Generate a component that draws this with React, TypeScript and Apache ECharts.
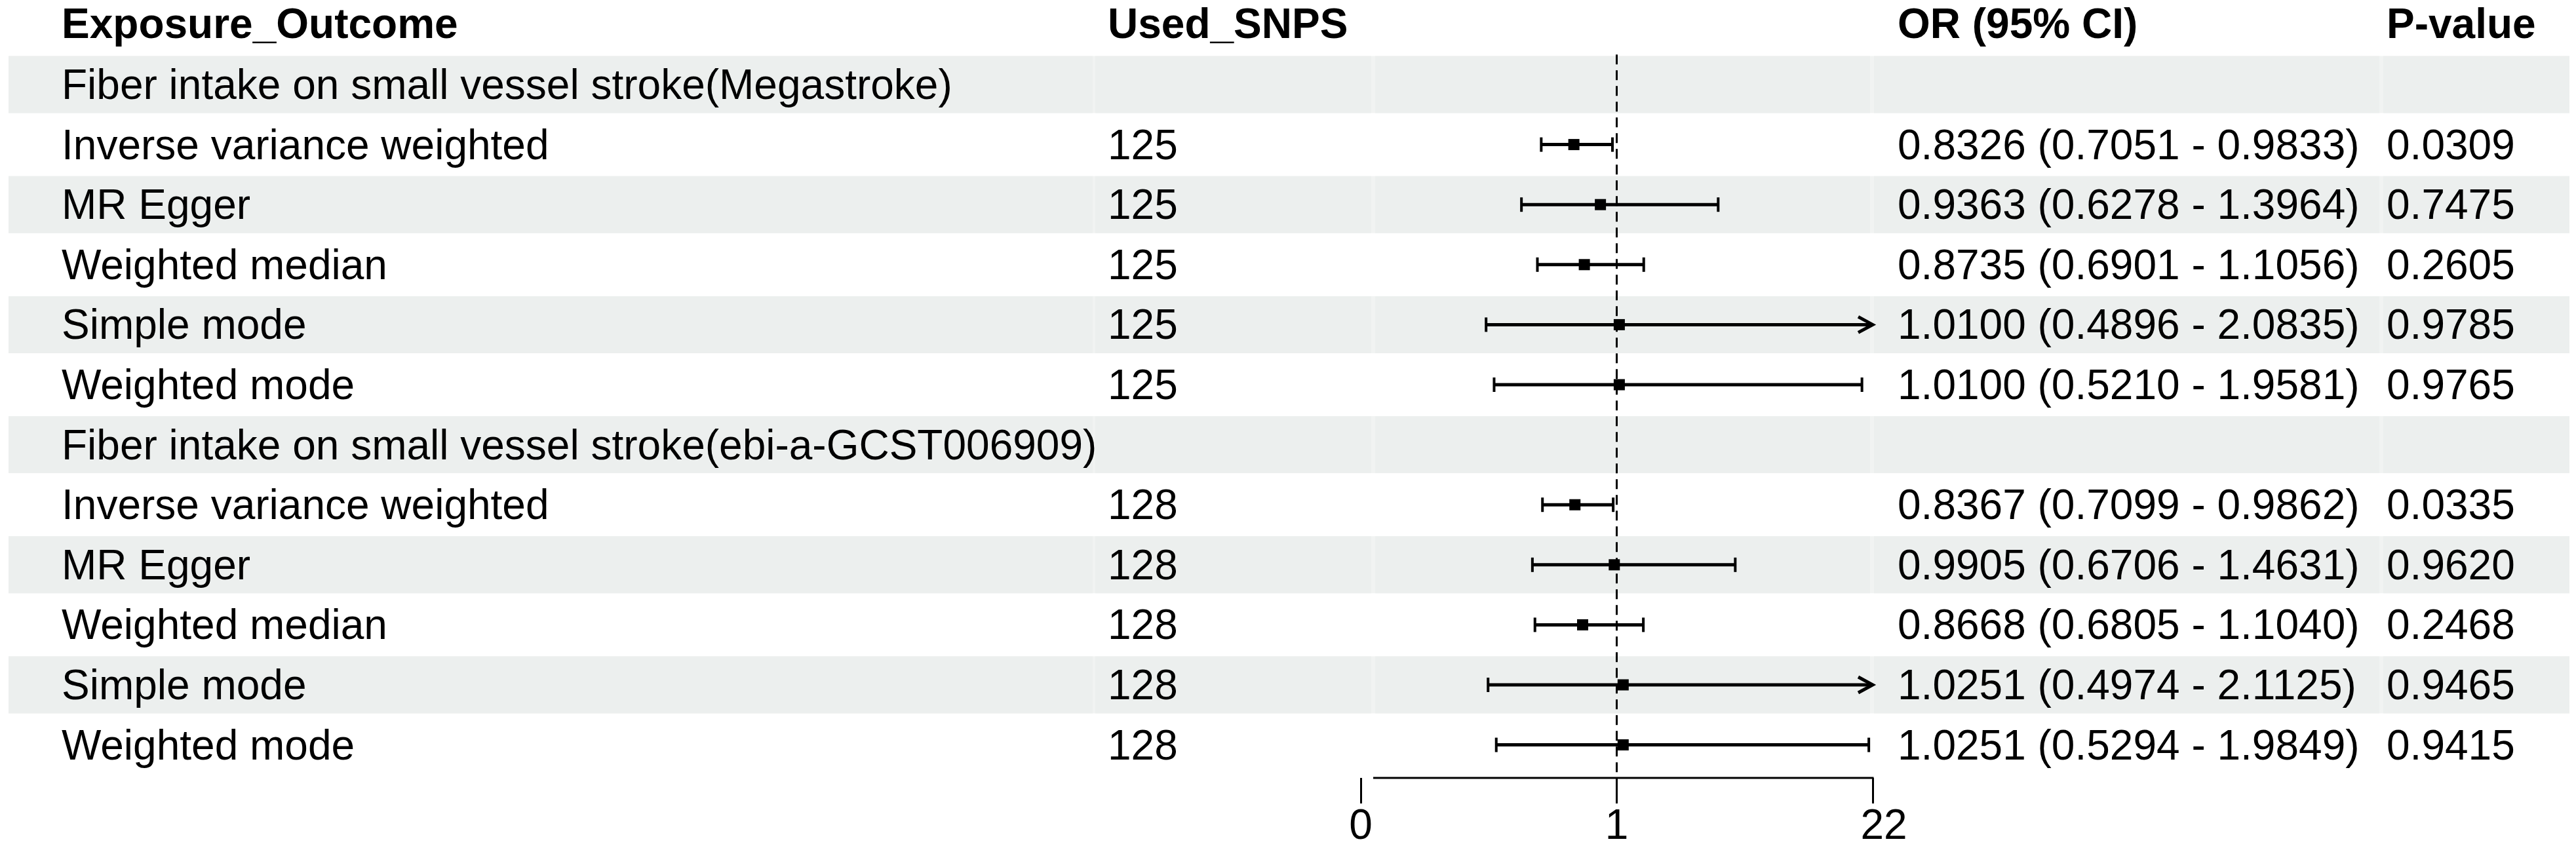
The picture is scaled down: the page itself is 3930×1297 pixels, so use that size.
import React, { useEffect, useRef } from "react";
import * as echarts from "echarts";

// ---------------- data ----------------
const headers = ["Exposure_Outcome", "Used_SNPS", "OR (95% CI)", "P-value"];
const rowLabels = [
  "Fiber intake on small vessel stroke(Megastroke)",
  "Inverse variance weighted",
  "MR Egger",
  "Weighted median",
  "Simple mode",
  "Weighted mode",
  "Fiber intake on small vessel stroke(ebi-a-GCST006909)",
  "Inverse variance weighted",
  "MR Egger",
  "Weighted median",
  "Simple mode",
  "Weighted mode",
];
const usedSnps = ["", "125", "125", "125", "125", "125", "", "128", "128", "128", "128", "128"];
const orValues = [null, 0.8326, 0.9363, 0.8735, 1.01, 1.01, null, 0.8367, 0.9905, 0.8668, 1.0251, 1.0251];
const ciLower = [null, 0.7051, 0.6278, 0.6901, 0.4896, 0.521, null, 0.7099, 0.6706, 0.6805, 0.4974, 0.5294];
const ciUpper = [null, 0.9833, 1.3964, 1.1056, 2.0835, 1.9581, null, 0.9862, 1.4631, 1.104, 2.1125, 1.9849];
const pValues = ["", "0.0309", "0.7475", "0.2605", "0.9785", "0.9765", "", "0.0335", "0.9620", "0.2468", "0.9465", "0.9415"];
const xTickValues = [0, 1, 2];
const xTickLabels = ["0", "1", "22"];
const referenceValue = 1;

// ---------------- layout ----------------
const W = 3930;
const H = 1297;
const ROW0 = 129;
const ROW_H = 91.6;
const Y_MIN = -0.5;
const Y_MAX = 11.55;
const HEADER_ROW = -1.01;
const GRID_TOP = ROW0 + Y_MIN * ROW_H;
const GRID_H = (Y_MAX - Y_MIN) * ROW_H;
const FOREST_LEFT = 2076;
const FOREST_W = 781;
const X_MIN = 0;
const X_MAX = 2;
const COL_X = [94, 1690, 2895, 3641];
const CELLS = [
  [13, 1667],
  [1671, 2092],
  [2098, 2853],
  [2859, 3630],
  [3636, 3920],
];
const SHADE_H = 87;
const FONT = '"Liberation Sans", Arial, Helvetica, sans-serif';
const FS = 64;

export default function App() {
  const ref = useRef<HTMLDivElement>(null);

  useEffect(() => {
    document.body.style.margin = "0";
    if (!ref.current) return;
    const chart = echarts.init(ref.current, null, { renderer: "svg" });

    const shadeData = rowLabels.map((_, i) => [i]).filter((d) => d[0] % 2 === 0);
    const tableData = [[HEADER_ROW]].concat(rowLabels.map((_, i) => [i]));
    const forestData: number[][] = [];
    orValues.forEach((v, i) => {
      if (v != null) forestData.push([i, v, ciLower[i] as number, ciUpper[i] as number]);
    });

    const option: any = {
      animation: false,
      backgroundColor: "#ffffff",
      grid: [
        { left: 0, top: GRID_TOP, width: W, height: GRID_H },
        { left: FOREST_LEFT, top: GRID_TOP, width: FOREST_W, height: GRID_H },
      ],
      xAxis: [
        { gridIndex: 0, type: "value", min: 0, max: W, show: false },
        {
          gridIndex: 1,
          type: "value",
          position: "bottom",
          min: X_MIN,
          max: X_MAX,
          interval: 1,
          axisLine: { show: false, onZero: false },
          axisTick: { show: true, length: 39, lineStyle: { color: "#000", width: 3 } },
          splitLine: { show: false },
          axisLabel: {
            margin: 46,
            color: "#000",
            fontSize: FS,
            lineHeight: 50,
            fontFamily: FONT,
            formatter: (v: number) => {
              const i = xTickValues.indexOf(v);
              if (i < 0) return "";
              return i === xTickValues.length - 1 ? `{shift|${xTickLabels[i]}}` : xTickLabels[i];
            },
            rich: {
              shift: { padding: [0, 0, 0, 34], fontSize: FS, lineHeight: 50, fontFamily: FONT, color: "#000" },
            },
          },
        },
      ],
      yAxis: [
        { gridIndex: 0, type: "value", min: Y_MIN, max: Y_MAX, inverse: true, show: false },
        { gridIndex: 1, type: "value", min: Y_MIN, max: Y_MAX, inverse: true, show: false },
      ],
      series: [
        {
          type: "custom",
          name: "shading",
          xAxisIndex: 0,
          yAxisIndex: 0,
          z: 0,
          silent: true,
          clip: false,
          data: shadeData,
          renderItem: (params: any, api: any) => {
            const y = api.coord([0, api.value(0)])[1];
            const children: any[] = [
              {
                type: "rect",
                shape: { x: CELLS[0][0], y: y - SHADE_H / 2, width: CELLS[CELLS.length - 1][1] - CELLS[0][0], height: SHADE_H },
                style: { fill: "#F1F3F2" },
              },
            ];
            CELLS.forEach((c) => {
              children.push({
                type: "rect",
                shape: { x: c[0], y: y - SHADE_H / 2, width: c[1] - c[0], height: SHADE_H },
                style: { fill: "#ECEFEE" },
              });
            });
            return { type: "group", children };
          },
        },
        {
          type: "custom",
          name: "table",
          xAxisIndex: 0,
          yAxisIndex: 0,
          z: 3,
          silent: true,
          clip: false,
          data: tableData,
          renderItem: (params: any, api: any) => {
            const r = api.value(0);
            const y = api.coord([0, r])[1];
            let texts: string[];
            let bold = false;
            if (r < 0) {
              texts = headers;
              bold = true;
            } else {
              const i = Math.round(r);
              const ov = orValues[i];
              const orText =
                ov != null
                  ? `${ov.toFixed(4)} (${(ciLower[i] as number).toFixed(4)} - ${(ciUpper[i] as number).toFixed(4)})`
                  : "";
              texts = [rowLabels[i], usedSnps[i], orText, pValues[i]];
            }
            return {
              type: "group",
              children: texts.map((t, k) => ({
                type: "text",
                x: api.coord([COL_X[k], r])[0],
                y,
                style: {
                  text: t,
                  fill: "#000",
                  fontSize: FS,
                  lineHeight: 58,
                  fontFamily: FONT,
                  fontWeight: bold ? "bold" : "normal",
                  align: "left",
                  verticalAlign: "middle",
                },
              })),
            };
          },
        },
        {
          type: "custom",
          name: "forest",
          xAxisIndex: 1,
          yAxisIndex: 1,
          z: 2,
          silent: true,
          clip: false,
          data: forestData,
          renderItem: (params: any, api: any) => {
            const row = api.value(0);
            const est = api.value(1);
            const lo = api.value(2);
            const hi = api.value(3);
            const p0 = api.coord([Math.max(lo, X_MIN), row]);
            const p1 = api.coord([Math.min(hi, X_MAX), row]);
            const pc = api.coord([est, row]);
            const y = p0[1];
            const ls = { stroke: "#000", lineWidth: 5 };
            const capH = 11;
            const children: any[] = [
              { type: "line", shape: { x1: p0[0], y1: y, x2: p1[0], y2: y }, style: ls },
              { type: "line", shape: { x1: p0[0], y1: y - capH, x2: p0[0], y2: y + capH }, style: { stroke: "#000", lineWidth: 4 } },
            ];
            if (hi > X_MAX) {
              children.push({
                type: "polyline",
                shape: { points: [[p1[0] - 22, y - 12], [p1[0], y], [p1[0] - 22, y + 12]] },
                style: { stroke: "#000", lineWidth: 5, fill: "none" },
              });
            } else {
              children.push({
                type: "line",
                shape: { x1: p1[0], y1: y - capH, x2: p1[0], y2: y + capH },
                style: { stroke: "#000", lineWidth: 4 },
              });
            }
            children.push({
              type: "rect",
              shape: { x: pc[0] - 8.5, y: y - 8.5, width: 17, height: 17 },
              style: { fill: "#000" },
            });
            return { type: "group", children };
          },
          markLine: {
            silent: true,
            symbol: "none",
            label: { show: false },
            lineStyle: { type: [15, 9], color: "#000", width: 3 },
            data: [{ xAxis: referenceValue }],
          },
        },
        {
          type: "custom",
          name: "axisline",
          xAxisIndex: 1,
          yAxisIndex: 1,
          z: 2,
          silent: true,
          clip: false,
          data: [[X_MIN, X_MAX]],
          renderItem: (params: any, api: any) => {
            const a = api.coord([api.value(0), Y_MAX]);
            const b = api.coord([api.value(1), Y_MAX]);
            return {
              type: "line",
              shape: { x1: a[0] + 19, y1: a[1], x2: b[0] + 1.5, y2: b[1] },
              style: { stroke: "#000", lineWidth: 3 },
            };
          },
        },
      ],
    };

    chart.setOption(option);
    return () => chart.dispose();
  }, []);

  return <div ref={ref} style={{ width: W, height: H, background: "#fff" }} />;
}
